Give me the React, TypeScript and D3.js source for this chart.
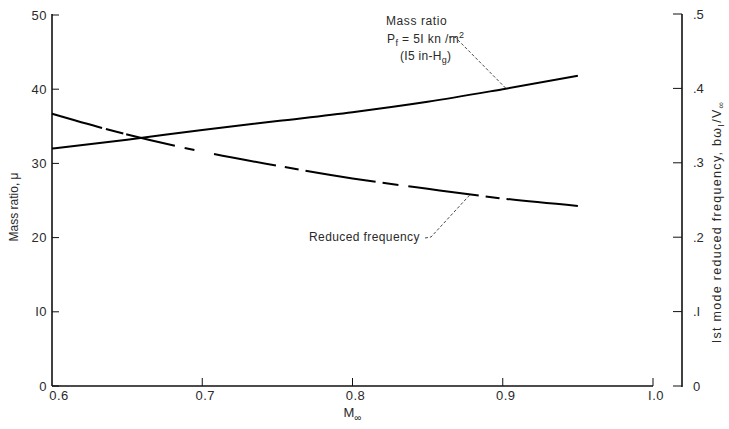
import React from "react";
import * as d3 from "d3";

// Flight Mach number samples
const machValues = [0.6, 0.65, 0.7, 0.75, 0.8, 0.85, 0.9, 0.95];
// Mass ratio, mu (left axis)
const massRatio = [32.0, 33.2, 34.5, 35.7, 36.9, 38.3, 40.0, 41.8];
// 1st mode reduced frequency, b*omega1/V (right axis)
const reducedFreq = [0.366, 0.338, 0.315, 0.296, 0.279, 0.265, 0.252, 0.242];

const xTicks = [0.6, 0.7, 0.8, 0.9, 1.0];
const xTickLabels = ["0.6", "0.7", "0.8", "0.9", "I.0"];
const leftTicks = [0, 10, 20, 30, 40, 50];
const leftTickLabels = ["0", "I0", "20", "30", "40", "50"];
const rightTicks = [0, 0.1, 0.2, 0.3, 0.4, 0.5];
const rightTickLabels = ["0", ".I", ".2", ".3", ".4", ".5"];

const FONT = "'Liberation Sans', Arial, sans-serif";

export default function App() {
  const W = 729;
  const H = 429;
  const x0 = 52, x1 = 653;
  const yBottom = 386, yTop = 15;
  const rightAxisX = 682;

  const x = d3.scaleLinear().domain([0.6, 1.0]).range([x0, x1]);
  const yL = d3.scaleLinear().domain([0, 50]).range([yBottom, yTop]);
  const yR = d3.scaleLinear().domain([0, 0.5]).range([yBottom, yTop - 1]);

  const massLine = d3
    .line<number>()
    .x((_, i) => x(machValues[i]))
    .y((d) => yL(d))
    .curve(d3.curveMonotoneX)(massRatio) as string;

  const freqLine = d3
    .line<number>()
    .x((_, i) => x(machValues[i]))
    .y((d) => yR(d))
    .curve(d3.curveMonotoneX)(reducedFreq) as string;

  // long/short dash rhythm of the reduced-frequency curve
  const freqDash = "52 4 18 3 50 10 10 20 63 9 14 7 71 7 16 10 71 7 14 7 80";

  const tickColor = "#111";
  const textColor = "#2a2a2a";

  return (
    <svg width={W} height={H} style={{ position: "absolute", left: 0, top: 0, background: "#fff" }} fontFamily={FONT}>
      <rect width={W} height={H} fill="#fff" />

      {/* left axis */}
      <line x1={x0} y1={yTop - 1} x2={x0} y2={yBottom} stroke={tickColor} strokeWidth={1.6} />
      {leftTicks.map((t, i) => (
        <g key={"l" + t}>
          <line x1={x0} x2={x0 + 7} y1={yL(t)} y2={yL(t)} stroke={tickColor} strokeWidth={1} />
          <text x={x0 - 5} y={yL(t)} dy="0.35em" textAnchor="end" fontSize={13} fill={textColor} letterSpacing={0.5}>
            {leftTickLabels[i]}
          </text>
        </g>
      ))}

      {/* bottom axis */}
      <line x1={x0} y1={yBottom} x2={x1} y2={yBottom} stroke={tickColor} strokeWidth={1.6} />
      {xTicks.map((t, i) => (
        <g key={"x" + t}>
          {t > 0.6 && (
            <line x1={x(t)} x2={x(t)} y1={yBottom} y2={yBottom - 8} stroke={tickColor} strokeWidth={1} />
          )}
          <text x={x(t) + (t === 0.6 ? 7 : 3)} y={yBottom + 14} textAnchor="middle" fontSize={13} fill={textColor} letterSpacing={0.5}>
            {xTickLabels[i]}
          </text>
        </g>
      ))}
      <text x={x(0.8)} y={yBottom + 31} textAnchor="middle" fontSize={13} fill={textColor}>
        M
        <tspan fontSize={10} dy={4}>∞</tspan>
      </text>

      {/* right axis */}
      <line x1={rightAxisX} y1={yR(0.5)} x2={rightAxisX} y2={yBottom + 1} stroke={tickColor} strokeWidth={1.6} />
      {rightTicks.map((t, i) => (
        <g key={"r" + t}>
          <line x1={rightAxisX - 9} x2={rightAxisX} y1={yR(t)} y2={yR(t)} stroke={tickColor} strokeWidth={1} />
          <text x={rightAxisX + 11} y={yR(t)} dy="0.35em" textAnchor="start" fontSize={13} fill={textColor}>
            {rightTickLabels[i]}
          </text>
        </g>
      ))}

      {/* axis titles */}
      <text transform={`translate(18,${207}) rotate(-90)`} textAnchor="middle" fontSize={12} fill={textColor}>
        Mass ratio, μ
      </text>
      <text transform={`translate(721,${222}) rotate(-90)`} textAnchor="middle" fontSize={12.5} fill={textColor} letterSpacing={1.3}>
        Ist  mode  reduced  frequency,  bω
        <tspan fontSize={9} dy={3}>I</tspan>
        <tspan dy={-3}>/V</tspan>
        <tspan fontSize={9} dy={3}>∞</tspan>
      </text>

      {/* curves */}
      <path d={massLine} fill="none" stroke="#000" strokeWidth={2} />
      <path d={freqLine} fill="none" stroke="#000" strokeWidth={2} strokeDasharray={freqDash} />

      {/* mass ratio annotation */}
      <text x={386} y={25} fontSize={12} fill={textColor} letterSpacing={0.6}>
        Mass ratio
      </text>
      <text x={387} y={43} fontSize={12} fill={textColor} letterSpacing={0.4}>
        P
        <tspan fontSize={9} dy={3}>f</tspan>
        <tspan dy={-3}> = 5I  kn /m</tspan>
        <tspan fontSize={9} dy={-5}>2</tspan>
      </text>
      <text x={400} y={60} fontSize={12} fill={textColor} letterSpacing={0.3}>
        (I5 in-H
        <tspan fontSize={9} dy={3}>g</tspan>
        <tspan dy={-3}>)</tspan>
      </text>
      <path
        d={`M449,37 L455,37 L${x(0.9) + 3},${yL(40) - 1}`}
        fill="none"
        stroke="#333"
        strokeWidth={0.9}
        strokeDasharray="3 2"
      />

      {/* reduced frequency annotation */}
      <text x={309} y={241} fontSize={12} fill={textColor} letterSpacing={0.4}>
        Reduced frequency
      </text>
      <path
        d={`M425,238 L431,237 L${x(0.878)},${yR(0.258) + 1}`}
        fill="none"
        stroke="#333"
        strokeWidth={0.9}
        strokeDasharray="3 2"
      />
    </svg>
  );
}
